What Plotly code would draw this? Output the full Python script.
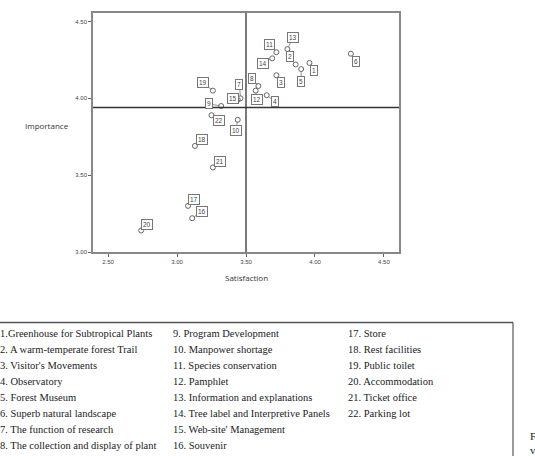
import plotly.graph_objects as go

# ---- data ----
ids = [str(i) for i in range(1, 23)]
satisfaction = [3.96, 3.86, 3.72, 3.65, 3.90, 4.26, 3.46, 3.59, 3.32, 3.44, 3.72,
                3.57, 3.80, 3.69, 3.44, 3.11, 3.08, 3.13, 3.26, 2.74, 3.26, 3.25]
importance = [4.23, 4.22, 4.15, 4.02, 4.19, 4.29, 4.00, 4.08, 3.95, 3.86, 4.30,
              4.05, 4.32, 4.26, 3.99, 3.22, 3.30, 3.69, 4.05, 3.14, 3.55, 3.89]
mean_sat = 3.50
mean_imp = 3.94
x_ticks = [2.5, 3.0, 3.5, 4.0, 4.5]
y_ticks = [3.0, 3.5, 4.0, 4.5]
# label box offsets from point (pixels)
label_dx = [5, -6, 5, 8, 0, 5, -1, -6, -12, -2, -7, 1, 6, -9, -5, 10, 6, 7, -10, 6, 7, 7]
label_dy = [8, -8, 7, 6, 12, 8, -14, -8, -2, 11, -8, 9, -12, 5, -1, -7, -6, -6, -8, -6, -6, 5]

legend_col1 = ["1.Greenhouse for Subtropical Plants", "2. A warm-temperate forest Trail",
               "3. Visitor's Movements", "4. Observatory", "5. Forest Museum",
               "6. Superb natural landscape", "7. The function of research",
               "8. The collection and display of plant"]
legend_col2 = ["9. Program Development", "10. Manpower shortage", "11. Species conservation",
               "12. Pamphlet", "13. Information and explanations",
               "14. Tree label and Interpretive Panels", "15. Web-site' Management", "16. Souvenir"]
legend_col3 = ["17. Store", "18. Rest facilities", "19. Public toilet", "20. Accommodation",
               "21. Ticket office", "22. Parking lot"]

W, H = 535, 456
L, R, T, B = 93, 399, 11, 252  # plot area in pixels


def px(xp):
    return (xp - L) / (R - L)


def py(yp):
    return (B - yp) / (B - T)


fig = go.Figure()
fig.add_trace(go.Scatter(
    x=satisfaction, y=importance, mode="markers",
    marker=dict(symbol="circle-open", size=5, color="#666", line=dict(width=1)),
    hoverinfo="skip", showlegend=False))

annotations = []
for i, lab in enumerate(ids):
    annotations.append(dict(
        x=satisfaction[i], y=importance[i], xref="x", yref="y", text=lab,
        showarrow=True, arrowhead=0, arrowwidth=0.8, arrowcolor="#777",
        ax=label_dx[i], ay=label_dy[i], standoff=2,
        font=dict(family="Arial, Liberation Sans", size=6.5, color="#444"),
        bordercolor="#777", borderwidth=1, borderpad=1, bgcolor="white"))

# axis titles
annotations.append(dict(x=px(47), y=py(124), xref="paper", yref="paper", text="Importance",
                        showarrow=False, xanchor="center", yanchor="middle",
                        font=dict(family="Open Sans, Arial", size=8, color="#333")))
annotations.append(dict(x=px(246), y=py(278), xref="paper", yref="paper", text="Satisfaction",
                        showarrow=False, xanchor="center", yanchor="middle",
                        font=dict(family="Open Sans, Arial", size=8, color="#333")))

# legend table text
row_y = [334 + 16.1 * k for k in range(8)]
for col, xs in ((legend_col1, -2), (legend_col2, 171), (legend_col3, 346)):
    for k, t in enumerate(col):
        annotations.append(dict(x=px(xs), y=py(row_y[k]), xref="paper", yref="paper",
                                text=t, showarrow=False, xanchor="left", yanchor="middle",
                                font=dict(family="Liberation Serif, DejaVu Serif", size=10.5,
                                          color="#222")))
# cut-off caption fragments at right edge
for t, yy in (("F", 438), ("v", 452)):
    annotations.append(dict(x=px(528), y=py(yy), xref="paper", yref="paper", text=t,
                            showarrow=False, xanchor="left", yanchor="middle",
                            font=dict(family="Liberation Serif", size=11, color="#222")))

shapes = [
    dict(type="line", xref="x", yref="paper", x0=mean_sat, x1=mean_sat, y0=0, y1=1,
         line=dict(color="#333", width=1.3)),
    dict(type="line", xref="paper", yref="y", x0=0, x1=1, y0=mean_imp, y1=mean_imp,
         line=dict(color="#333", width=1.3)),
    # legend table borders
    dict(type="line", xref="paper", yref="paper", x0=px(-2), x1=px(513), y0=py(323), y1=py(323),
         line=dict(color="#555", width=1.5)),
    dict(type="line", xref="paper", yref="paper", x0=px(513), x1=px(513), y0=py(323), y1=py(460),
         line=dict(color="#555", width=1.2)),
]

fig.update_layout(
    width=W, height=H, margin=dict(l=L, r=W - R, t=T, b=H - B),
    paper_bgcolor="white", plot_bgcolor="white",
    annotations=annotations, shapes=shapes,
    xaxis=dict(range=[2.391, 4.609], tickvals=x_ticks, tickformat=".2f",
               showgrid=False, zeroline=False, showline=True, linecolor="#888", linewidth=1.5,
               mirror=True, ticks="outside", ticklen=3, tickcolor="#666",
               tickfont=dict(family="Arial, Liberation Sans", size=6, color="#444")),
    yaxis=dict(range=[3.0, 4.555], tickvals=y_ticks, tickformat=".2f",
               showgrid=False, zeroline=False, showline=True, linecolor="#888", linewidth=1.5,
               mirror=True, ticks="outside", ticklen=3, tickcolor="#666",
               tickfont=dict(family="Arial, Liberation Sans", size=6, color="#444")),
)

fig.write_html("out.html")
